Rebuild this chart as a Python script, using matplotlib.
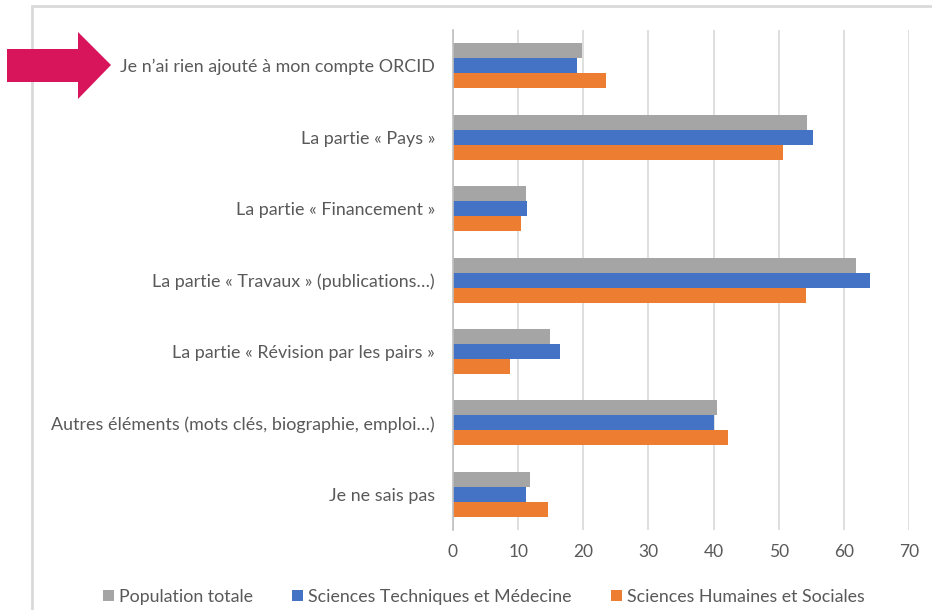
import matplotlib
matplotlib.use("Agg")
import matplotlib.pyplot as plt
import numpy as np
from matplotlib.patches import Rectangle, Polygon

plt.rcParams['font.family'] = ['Lato', 'DejaVu Sans']

categories = [
    "Je n\u2019ai rien ajouté à mon compte ORCID",
    "La partie « Pays »",
    "La partie « Financement »",
    "La partie « Travaux » (publications…)",
    "La partie « Révision par les pairs »",
    "Autres éléments (mots clés, biographie, emploi…)",
    "Je ne sais pas",
]
series_names = ["Population totale", "Sciences Techniques et Médecine", "Sciences Humaines et Sociales"]
population_totale = [19.8, 54.3, 11.2, 61.8, 14.9, 40.5, 11.8]
sciences_tech_med = [19.0, 55.2, 11.4, 64.0, 16.5, 40.0, 11.2]
sciences_hum_soc = [23.5, 50.6, 10.4, 54.2, 8.7, 42.2, 14.6]
xticks = [0, 10, 20, 30, 40, 50, 60, 70]

colors = ["#A5A5A5", "#4472C4", "#ED7D31"]
text_color = "#595959"

fig = plt.figure(figsize=(9.32, 6.1), dpi=100)
fig.patch.set_facecolor("white")

# panel frame
fig.add_artist(Rectangle((32/932, -0.05), 1.0, 1 - 6/610 + 0.05, transform=fig.transFigure,
                         fill=False, edgecolor="#D9D9D9", linewidth=2.0, zorder=0))

ax = fig.add_axes([453/932, 1 - 530/610, (909 - 453)/932, 500/610])
y = np.arange(len(categories))
h = 0.21
ax.barh(y - h, population_totale, height=h, color=colors[0], label=series_names[0], zorder=3)
ax.barh(y, sciences_tech_med, height=h, color=colors[1], label=series_names[1], zorder=3)
ax.barh(y + h, sciences_hum_soc, height=h, color=colors[2], label=series_names[2], zorder=3)

ax.set_ylim(len(categories) - 0.5, -0.5)
ax.set_xlim(0, 70)
ax.set_xticks(xticks)
ax.set_yticks(y)
ax.set_yticklabels(categories, fontsize=12.9, color=text_color)
ax.tick_params(axis='x', labelsize=12.5, colors=text_color, length=0, pad=10)
ax.tick_params(axis='y', length=0, pad=13)
ax.grid(axis='x', color="#D9D9D9", linewidth=1.2, zorder=0)
for s in ["top", "right", "bottom"]:
    ax.spines[s].set_visible(False)
ax.spines["left"].set_color("#BFBFBF")
ax.spines["left"].set_linewidth(1.2)
ax.spines["left"].set_zorder(4)

leg = fig.legend(loc="center", bbox_to_anchor=(484/932, 1 - 597/610), ncol=3, frameon=False,
                 fontsize=12.8, handlelength=0.6, handleheight=0.6, handletextpad=0.3,
                 columnspacing=2.2, labelcolor=text_color)

# arrow
pts = [(7, 49), (78, 49), (78, 32), (111, 65), (78, 99), (78, 82), (7, 82)]
poly = Polygon([(px/932, 1 - py/610) for px, py in pts], closed=True, transform=fig.transFigure,
               facecolor="#D8145A", edgecolor="none")
fig.add_artist(poly)

fig.savefig("out.png", dpi=100)
